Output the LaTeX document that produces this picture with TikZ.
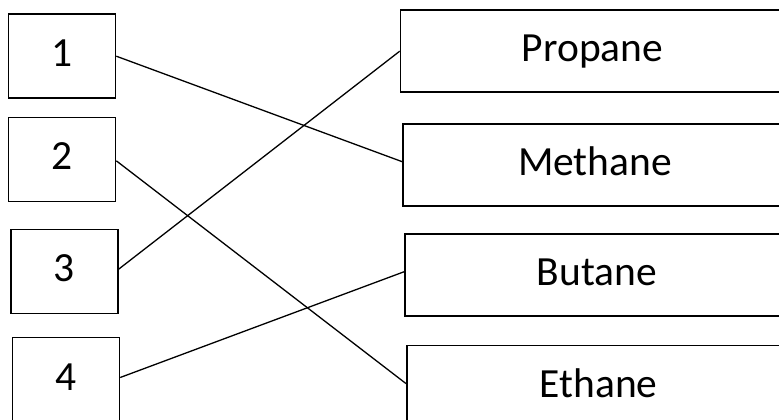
\documentclass[tikz,border=0pt]{standalone}
\usepackage{fontspec}
\setmainfont{Carlito}
\begin{document}
\begin{tikzpicture}[x=1pt,y=1pt,
  numbox/.style={draw=black, line width=1.6pt, minimum width=107pt, minimum height=84pt, inner sep=0pt,
    font=\fontsize{41.5}{48}\selectfont, text height=25pt, text depth=4pt},
  namebox/.style={draw=black, line width=1.6pt, minimum width=384pt, minimum height=82pt, inner sep=0pt,
    font=\fontsize{41.5}{48}\selectfont, text height=25pt, text depth=4pt},
  link/.style={draw=black, line width=1.3pt}]
\clip (0,0) rectangle (779,-420);
\fill[white] (0,0) rectangle (779,-420);
\node[numbox] (b1) at (62,-56.2) {1};
\node[numbox] (b2) at (62,-159.3) {2};
\node[numbox] (b3) at (64.2,-271.3) {3};
\node[numbox] (b4) at (65.9,-379.5) {4};
\node[namebox] (pr) at (592.5,-51.2) {Propane};
\node[namebox] (me) at (595,-164.7) {Methane};
\node[namebox] (bu) at (597,-274.7) {Butane};
\node[namebox, minimum height=83pt] (et) at (598.7,-387) {Ethane};
\draw[link] (b1.east) -- ([yshift=3pt]me.west);
\draw[link] ([yshift=-1.5pt]b2.east) -- ([yshift=3.5pt]et.west);
\draw[link] ([yshift=2pt]b3.east) -- (pr.west);
\draw[link] ([yshift=2pt]b4.east) -- ([yshift=3pt]bu.west);
\end{tikzpicture}
\end{document}
